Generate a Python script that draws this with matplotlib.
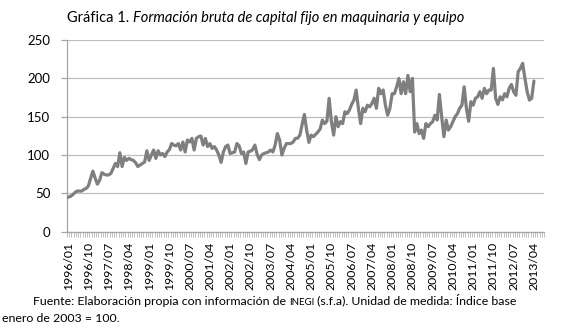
import matplotlib
matplotlib.use("Agg")
import matplotlib.pyplot as plt
import numpy as np

plt.rcParams["font.family"] = ["Lato", "DejaVu Sans"]

# Índice mensual (base enero 2003 = 100), 1996/01 - 2013/04
values = [
    45, 46, 48, 51, 53, 53, 53, 55, 56.5, 59.6,
    69.6, 79, 70, 62, 67, 77, 75, 74, 74, 76,
    82.6, 89, 85, 103, 85, 97, 93, 95.6, 94, 93,
    90, 85, 87, 89, 91, 105.6, 93, 100, 106.5, 95.6,
    105.6, 100, 102, 98, 104, 107, 115, 113, 112, 115,
    106.5, 117, 104, 119.6, 117, 121.7, 106.5, 121.7, 124, 124.8,
    113, 121.7, 111, 115, 108.7, 111, 106.5, 100, 90.4, 104,
    111, 113, 102, 103, 104, 115, 112, 102, 104, 89,
    104, 105, 107, 113, 101, 94, 100, 102, 103, 104,
    106.5, 104, 113, 128, 119.6, 100, 108.7, 115, 115, 115,
    117, 121.7, 122, 126, 140, 153, 132.6, 116.5, 126, 124,
    127, 130, 134, 145.6, 141, 144, 174, 143.5, 126, 150,
    137, 143.5, 141, 156.5, 154, 158.7, 166, 171.7, 184.8, 161,
    141, 161, 156.5, 165, 163, 167, 174, 161, 187, 180,
    184.8, 165, 152, 161, 180, 180, 189, 200, 180, 195.6,
    180, 204, 182.6, 200, 130, 141, 128, 132.6, 121.7, 141,
    137, 141, 143.5, 152, 145.6, 179, 150, 124, 145.6, 132.6,
    137, 143.5, 150, 154, 161, 165, 189, 161, 144, 169.6,
    165, 174, 176, 182.6, 174, 187, 180, 184.8, 184.8, 213,
    174, 166, 176, 172, 180, 176, 187, 192, 182.6, 178,
    208.7, 213, 219.6, 200, 182.6, 171.7, 174, 196.5,
]
first_year = 1996
n_slots = 212          # huecos de categoría en el eje (hasta 2013/08)
label_step = 9         # una etiqueta cada 9 meses
y_ticks = [0, 50, 100, 150, 200, 250]


def month_label(i):
    return f"{first_year + i // 12}/{i % 12 + 1:02d}"


def put_pieces(fig, x, y, pieces, renderer):
    """Escribe trozos de texto seguidos en una línea (distintos estilos)."""
    for txt, kw in pieces:
        t = fig.text(x, y, txt, va="baseline", ha="left", **kw)
        bb = t.get_window_extent(renderer=renderer)
        x += bb.width / fig.bbox.width


fig = plt.figure(figsize=(5.8, 3.31), dpi=100)
ax = fig.add_axes([0.1155, 0.300, 0.8225, 0.579])

x = np.arange(len(values))
ax.plot(x, values, color="#7F7F7F", lw=2.3, solid_joinstyle="round",
        solid_capstyle="round", zorder=3)

ax.set_xlim(-0.5, n_slots - 0.5)
ax.set_ylim(0, 250)
ax.set_yticks(y_ticks)
ax.grid(axis="y", color="#BFBFBF", lw=0.9)
ax.set_axisbelow(True)

for side in ("top", "right"):
    ax.spines[side].set_visible(False)
for side in ("left", "bottom"):
    ax.spines[side].set_color("#A6A6A6")
    ax.spines[side].set_linewidth(0.9)

label_idx = list(range(0, len(values), label_step))
ax.set_xticks(label_idx)
ax.set_xticklabels([month_label(i) for i in label_idx], rotation=90,
                   fontsize=8.8)
ax.set_xticks(np.arange(-0.5, n_slots), minor=True)
ax.tick_params(axis="x", which="major", length=0, pad=7)
ax.tick_params(axis="x", which="minor", length=3.5, color="#A6A6A6",
               width=0.5, direction="out")
ax.tick_params(axis="y", length=4, color="#A6A6A6", width=0.9,
               labelsize=9.5, pad=8)

fig.canvas.draw()
r = fig.canvas.get_renderer()

put_pieces(fig, 0.1155, 0.935, [
    ("Gráfica 1. ", dict(fontsize=10.5)),
    ("Formación bruta de capital fijo en maquinaria y equipo",
     dict(fontsize=10.5, style="italic")),
], r)

put_pieces(fig, 0.057, 0.080, [
    ("Fuente: Elaboración propia con información de ", dict(fontsize=8.95)),
    ("INEGI", dict(fontsize=7.0)),
    (" (s.f.a). Unidad de medida: Índice base", dict(fontsize=8.95)),
], r)
fig.text(0.0035, 0.026, "enero de 2003 = 100.", fontsize=8.95,
         va="baseline", ha="left")

fig.savefig("out.png", dpi=100)
